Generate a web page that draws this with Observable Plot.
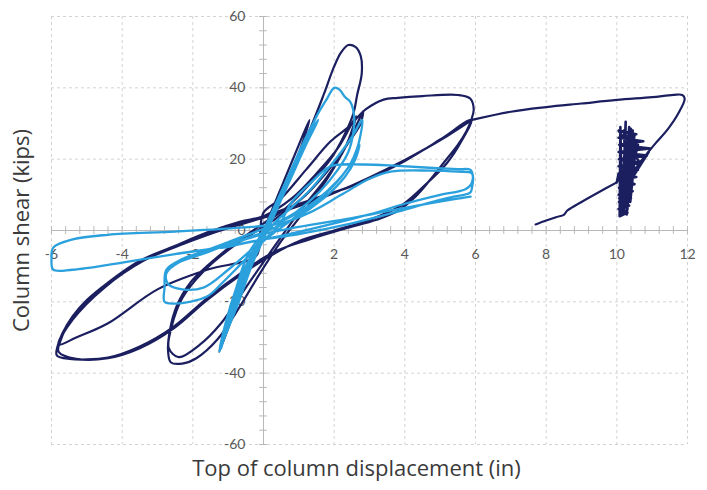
<!DOCTYPE html>
<html>
<head>
<meta charset="utf-8">
<script src="https://cdn.jsdelivr.net/npm/d3@7"></script>
<script src="https://cdn.jsdelivr.net/npm/@observablehq/plot@0.6"></script>
<style>
  html, body { margin: 0; padding: 0; background: #fff; }
  #chart { width: 707px; height: 490px; }
</style>
</head>
<body>
<div id="chart"></div>
<script>
// Axis ticks
const xMajor = [-6, -4, -2, 2, 4, 6, 8, 10, 12];
const yMajor = [-60, -40, -20, 20, 40, 60];
const xLabels = [-6, -4, -2, 2, 4, 6, 8, 10, 12];
const yLabels = [60, 40, 20, 0, -20, -40, -60];
const xTitle = "Top of column displacement (in)";
const yTitle = "Column shear (kips)";

// Dark series: cyclic loops [displacement (in), shear (kips)]
const darkCycles = [
  [0,0],[0.5,12],[1.0,24],[1.3,31],[1.05,23],[0.5,9],[0,-1],[-0.5,-13],[-0.95,-26],[-1.25,-34],[-1.05,-27],[-0.5,-12],[0,0],
  [0.35,7],[0.8,17],[1.3,28],[1.7,38],[2.0,46],[2.2,50],[2.4,52],[2.6,51.5],[2.75,49],[2.78,44],[2.65,38],[2.55,33],[2.3,27],[1.9,20],[1.3,13],[0.6,6],[0,2],
  [-0.8,-3.5],[-1.6,-10],[-2.07,-14.6],[-2.45,-21],[-2.65,-28],[-2.7,-34],[-2.62,-37],[-2.3,-37.3],[-1.9,-35.8],[-1.3,-30.5],[-0.65,-21],[-0.1,-12],[0.5,-3],
  [1.2,6],[1.9,16],[2.4,25],[2.7,31],[2.82,33.5],[2.75,30],[2.5,26],[2.0,19],[1.2,10],[0.3,3],[-0.8,-4],[-1.7,-11.5],[-2.3,-19],[-2.6,-27],[-2.68,-33],
  [-2.4,-35.5],[-1.8,-32],[-1.2,-26],[-0.5,-16],[0.2,-6],[1.0,5],[1.8,15],[2.3,23],[2.5,28],[2.62,32],[2.45,29],[2.1,23],[1.5,16],[0.8,9],[0,4],
  [-0.65,2.5],[-1.6,-0.6],[-2.55,-4.5],[-3.5,-8.5],[-4.4,-14.6],[-5.0,-19.5],[-5.4,-24],[-5.7,-29],[-5.83,-32.5],[-5.85,-35],[-5.5,-36],[-4.4,-35.6],
  [-3.5,-32.5],[-2.55,-27],[-1.6,-19],[-0.65,-12],[0.3,-6],[1.3,-2.5],[2.3,0.5],[3.2,3],[3.8,5.5],[4.3,9.5],[4.7,14],[5.1,19],[5.5,24],[5.75,28],
  [5.88,31],[5.95,34],[5.85,37],[5.5,38],[4.5,37.7],[3.8,37.2],[3.4,36.7],[2.9,34],[2.4,29],[1.9,25],[1.2,17],[0.5,9],[0,5],[-0.1,-1],[-0.2,-7],
  [-1.6,-11],[-3.0,-16.5],[-4.4,-26],[-5.3,-30],[-5.8,-32],[-5.4,-25],[-4.5,-16],[-3.4,-8.5],[-2.2,-3.5],[-1.0,0.8],[0.3,5],[1.3,8.5],[2.46,12.3],
  [3.3,16],[4.0,19.5],[5.0,25.5],[5.88,31],[5.6,25],[5.2,19],[4.6,13],[3.9,7],[3.0,3],[2.0,0],[1.0,-3],[0.3,-6.5],[-0.65,-12.5],[-1.6,-19.5],
  [-2.55,-27.5],[-3.5,-33],[-4.4,-35.8],[-5.3,-36],[-5.8,-34],[-5.75,-31],[-5.4,-24.5],[-4.4,-15],[-3.3,-7.8],[-2.1,-3],[-0.9,1],[0.3,4.5],
  [2.0,10.5],[4.0,19.8],[5.2,26.5],[5.9,31]
];
// Dark series: final monotonic push to 12 in
const darkPush = [
  [5.9,31],[7.0,33.3],[8.0,34.6],[9.0,35.6],[10.0,36.6],[11.0,37.4],[11.6,38],[11.85,38],[11.92,37],[11.75,33],[11.45,28.5],[11.1,24.5],[10.85,21.5],[10.65,19]
];
// Dark series: dense vibration near 10 in
const darkVibration = [
  [10.65,19],[10.05,28],[10.55,27],[10.05,26],[10.75,25],[10.07,24],[10.95,23],[10.05,22],[10.85,21],[10.06,20],[10.7,19],[10.05,18],
  [10.6,17],[10.06,16],[10.55,15],[10.05,14],[10.5,13],[10.06,12],[10.45,11],[10.05,10],[10.4,9],[10.06,8],[10.35,7],[10.05,6],[10.3,5],
  [10.08,4],[10.1,29],[10.15,4.5],[10.25,30.5],[10.2,5],[10.4,28.5],[10.28,4.5],[10.5,27],[10.12,6],[10.6,24],[10.07,9],[10.9,22],
  [10.1,12],[10.45,28],[10.18,7],[10.35,29],[10.3,6],[10.2,28],[10.38,8],[10.55,25],[10.22,10],[10.05,16],[10.0,13.5]
];
// Dark series: final unloading
const darkUnload = [
  [10.0,13.5],[9.5,10.8],[9.0,8],[8.6,5.6],[8.5,4.4],[8.3,3.8],[8.0,2.8],[7.7,1.7]
];

// Light series: cyclic loops
const lightCycles = [
  [0,0],[0.6,13],[1.1,24],[1.45,31],[1.2,25],[0.6,12],[0,0],[-0.5,-12],[-0.9,-23],[-1.2,-33],[-1.05,-28],[-0.55,-15],[0,-2],[0.55,11],[1.1,23],
  [1.5,32],[1.8,37],[2.0,40],[2.15,39.5],[2.3,37.5],[2.46,36],[2.56,32.5],[2.55,28],[2.4,22],[2.1,17],[1.6,11],[0.9,5],[0.2,1],[-0.4,-6],
  [-0.8,-17],[-1.1,-27],[-1.25,-34],[-1.1,-30],[-0.7,-20],[-0.3,-9],[0.2,2],[0.7,13],[1.2,24],[1.55,31],[1.3,27],[0.8,17],[0.3,6],[-0.2,-5],
  [-0.7,-16],[-1.05,-26],[-1.18,-31],[-0.95,-24],[-0.5,-13],[0,-1],[0.5,10],[1.0,21],[1.35,29],[1.1,22],[0.65,12],[0.15,2],[-0.35,-9],
  [-0.85,-21],[-1.15,-30],[-0.9,-20],[-0.4,-8],[0.3,2],[0.8,6.5],[1.33,11.5],[1.8,17],[2.2,22],[2.55,27],[2.75,30.5],[2.8,31],
  [2.75,27],[2.65,23],[2.45,18.5],[2.1,14],[1.5,8.5],[0.8,4],[0,0.5],[-0.8,-2.5],[-1.6,-5.5],[-2.3,-8],[-2.75,-11],[-2.8,-16],[-2.8,-20],
  [-2.5,-20.5],[-1.6,-18.5],[-1.2,-15],[-0.6,-9],[0,-3],[0.8,3],[1.6,9],[2.2,15],[2.6,21],[2.72,24],[2.6,20],[2.3,15],[1.7,9],[0.9,3.5],
  [0,-0.5],[-0.9,-3.5],[-1.7,-6.5],[-2.4,-9],[-2.75,-12],[-2.7,-15],[-2.3,-16.5],[-1.7,-16],[-1.0,-11],[-0.3,-5],[0.4,1],[0.8,8],[1.4,14],
  [1.9,18],[2.8,18.5],[3.8,18.1],[4.7,17.6],[5.5,17.2],[5.86,17],[5.93,15],[5.9,12],[5.85,10.6],[5.3,9.3],[4.7,7.8],[3.8,5.3],[2.5,2],[1.0,-1],
  [0,-2.5],[-1.1,-4.5],[-2.55,-6.7],[-4.0,-9],[-5.4,-11],[-5.95,-11],[-6.0,-8],[-5.95,-4.8],[-5.4,-2.5],[-4.4,-1.2],[-2.5,-0.3],[-0.65,0.8],
  [0.5,2],[1.3,5],[2.2,10],[3.0,14.5],[3.6,16.5],[4.7,16.8],[5.5,16.5],[5.9,16],[5.88,13],[5.7,11.5],[5.0,10],[4.0,7.5],[3.0,4.5],[1.8,1.5],
  [0.5,-1.5],[-0.5,-3.5],[-1.2,-5],[-0.2,-1.5],[1.0,1],[2.5,3.5],[3.8,6],[4.7,7.6],[5.4,8.8],[5.86,9.5]
];

const toRows = (arr) => arr.map(([x, y]) => ({x, y}));
const navy = "#1b1f5f";
const sky = "#2aa0dc";
const xMinor = d3.range(-6, 12.0001, 0.4);
const yMinor = d3.range(-60, 60.0001, 4);

const chart = Plot.plot({
  width: 707,
  height: 490,
  marginLeft: 51,
  marginRight: 20,
  marginTop: 16,
  marginBottom: 46,
  x: {domain: [-6, 12], axis: null},
  y: {domain: [-60, 60], axis: null},
  style: {fontFamily: "Lato, 'Open Sans', sans-serif", background: "#fff"},
  marks: [
    Plot.ruleX(xMajor, {x: d => d, stroke: "#d2d2d2", strokeDasharray: "3,3"}),
    Plot.ruleY(yMajor, {y: d => d, stroke: "#d2d2d2", strokeDasharray: "3,3"}),
    Plot.ruleY([0], {y: d => d, stroke: "#b8b8b8"}),
    Plot.ruleX([0], {x: d => d, stroke: "#b8b8b8"}),
    Plot.ruleX(xMinor, {x: d => d, y1: -1.1, y2: 1.1, stroke: "#b8b8b8"}),
    Plot.ruleY(yMinor, {y: d => d, x1: -0.11, x2: 0.11, stroke: "#b8b8b8"}),
    Plot.text(xLabels, {x: d => d, y: 0, dy: 24, text: d => String(d), fontSize: 14, fill: "#595959"}),
    Plot.text(yLabels, {x: 0, y: d => d, dx: -18, textAnchor: "end", text: d => String(d), fontSize: 14, fill: "#595959"}),
    Plot.line(toRows(darkCycles), {x: "x", y: "y", stroke: navy, strokeWidth: 2.2, curve: "catmull-rom"}),
    Plot.line(toRows(darkPush), {x: "x", y: "y", stroke: navy, strokeWidth: 2.2, curve: "catmull-rom"}),
    Plot.line(toRows(darkVibration), {x: "x", y: "y", stroke: navy, strokeWidth: 2.6, curve: "linear"}),
    Plot.line(toRows(darkUnload), {x: "x", y: "y", stroke: navy, strokeWidth: 2.2, curve: "catmull-rom"}),
    Plot.line(toRows(lightCycles), {x: "x", y: "y", stroke: sky, strokeWidth: 2.3, curve: "catmull-rom"}),
    Plot.text([xTitle], {frameAnchor: "bottom", lineAnchor: "middle", textAnchor: "middle", dy: 24, dx: -13, fontSize: 22, fontFamily: "'Open Sans', sans-serif", fill: "#3a3a3a"}),
    Plot.text([yTitle], {frameAnchor: "left", lineAnchor: "middle", textAnchor: "middle", dx: -30, rotate: -90, fontSize: 22, fontFamily: "'Open Sans', sans-serif", fill: "#3a3a3a"})
  ]
});
document.getElementById("chart").appendChild(chart);
</script>
</body>
</html>
